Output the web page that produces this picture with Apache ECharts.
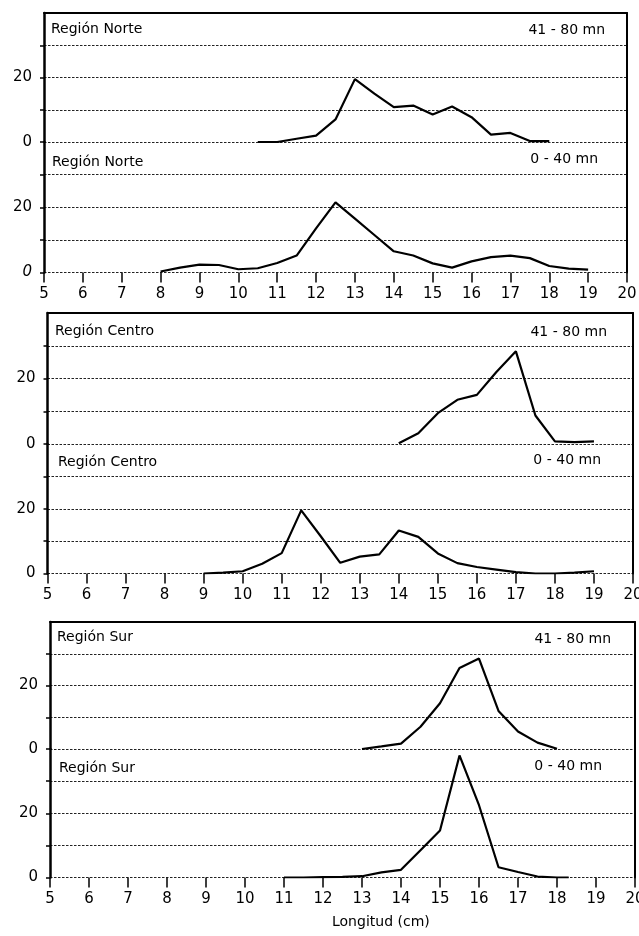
<!DOCTYPE html>
<html>
<head>
<meta charset="utf-8">
<script src="https://cdn.jsdelivr.net/npm/echarts@6/dist/echarts.min.js"></script>
<style>
  html, body { margin: 0; padding: 0; background: #fff; }
  #chart { width: 639px; height: 936px; }
</style>
</head>
<body>
<div id="chart"></div>
<script>
// ---------- DATA (longitud en cm, % frecuencia) ----------
const norte_41_80_x = [10.5, 11, 11.5, 12, 12.5, 13, 13.5, 14, 14.5, 15, 15.5, 16, 16.5, 17, 17.5, 18];
const norte_41_80_y = [0, 0, 1, 2, 7, 19.5, 15, 10.8, 11.3, 8.5, 11, 7.7, 2.3, 2.8, 0.3, 0.3];

const norte_0_40_x = [8, 8.5, 9, 9.5, 10, 10.5, 11, 11.5, 12, 12.5, 13, 13.5, 14, 14.5, 15, 15.5, 16, 16.5, 17, 17.5, 18, 18.5, 19];
const norte_0_40_y = [0.3, 1.5, 2.4, 2.3, 1.0, 1.3, 2.9, 5.2, 13.5, 21.5, 16.5, 11.5, 6.5, 5.2, 2.8, 1.5, 3.4, 4.7, 5.2, 4.4, 2.0, 1.2, 0.9];

const centro_41_80_x = [14, 14.5, 15, 15.5, 16, 16.5, 17, 17.5, 18, 18.5, 19];
const centro_41_80_y = [0.2, 3.3, 9.4, 13.5, 15, 22, 28.3, 8.7, 0.8, 0.6, 0.8];

const centro_0_40_x = [9, 9.5, 10, 10.5, 11, 11.5, 12, 12.5, 13, 13.5, 14, 14.5, 15, 15.5, 16, 16.5, 17, 17.5, 18, 18.5, 19];
const centro_0_40_y = [0, 0.3, 0.7, 3, 6.3, 19.5, 11.5, 3.3, 5.2, 5.9, 13.3, 11.3, 6.2, 3.2, 2, 1.2, 0.4, 0, 0, 0.3, 0.7];

const sur_41_80_x = [13, 13.5, 14, 14.5, 15, 15.5, 16, 16.5, 17, 17.5, 18];
const sur_41_80_y = [0, 0.8, 1.7, 7, 14.4, 25.5, 28.5, 12, 5.5, 2, 0.1];

const sur_0_40_x = [11, 11.5, 12, 12.5, 13, 13.5, 14, 14.5, 15, 15.5, 16, 16.5, 17, 17.5, 18, 18.3];
const sur_0_40_y = [0, 0, 0.1, 0.2, 0.4, 1.6, 2.4, 8.5, 14.6, 38, 22.5, 3.2, 1.7, 0.3, 0, 0];

const regionNames = ['Región Norte', 'Región Centro', 'Región Sur'];
const depthLabels = ['41 - 80 mn', '0 - 40 mn'];
const xMin = 5, xMax = 20, xStep = 1;
const yMin = 0, yMax = 40, yStep = 10;
const yTickText = { 0: '0', 20: '20' };
const xAxisTitle = 'Longitud (cm)';

const seriesData = [
  [[norte_41_80_x, norte_41_80_y], [norte_0_40_x, norte_0_40_y]],
  [[centro_41_80_x, centro_41_80_y], [centro_0_40_x, centro_0_40_y]],
  [[sur_41_80_x, sur_41_80_y], [sur_0_40_x, sur_0_40_y]]
];

// ---------- LAYOUT ----------
const panels = [
  { left: 44,   right: 627, top: 13,  mid: 142, bottom: 272.5 },
  { left: 47.5, right: 633, top: 313, mid: 444, bottom: 573.5 },
  { left: 50,   right: 635, top: 622, mid: 749, bottom: 877.5 }
];
const textPos = [
  { reg: [[51, 22], [52, 155]], dep: [[34, 23], [41, 152]] },
  { reg: [[55, 324], [58, 455]], dep: [[32, 325], [38, 453]] },
  { reg: [[57, 630], [59, 761]], dep: [[28, 632], [37, 759]] }
];

const FONT = 'DejaVu Sans';
const INK = '#000';
const dotted = [2.5, 1.5];

const grid = [], xAxis = [], yAxis = [], series = [], title = [];

panels.forEach((p, pi) => {
  const w = p.right - p.left;
  [0, 1].forEach(sub => {
    const gi = grid.length;
    const top = sub === 0 ? p.top : p.mid;
    const h = sub === 0 ? (p.mid - p.top) : (p.bottom - p.mid);
    grid.push({ left: p.left, top: top, width: w, height: h, containLabel: false, outerBoundsMode: 'none' });

    const isUpper = sub === 0;
    xAxis.push({
      type: 'value', gridIndex: gi, min: xMin, max: xMax, interval: xStep,
      position: isUpper ? 'top' : 'bottom',
      axisLine: { show: isUpper, onZero: false, lineStyle: { color: INK, width: 2 } },
      axisTick: { show: !isUpper, inside: false, length: 10, lineStyle: { color: INK, width: 1.5 } },
      axisLabel: { show: !isUpper, margin: 14, fontSize: 15, fontFamily: FONT, color: INK },
      splitLine: { show: false }
    });

    const italicZero = (pi === 0 && !isUpper);
    yAxis.push({
      type: 'value', gridIndex: gi, min: yMin, max: yMax, interval: yStep, position: 'left',
      axisLine: { show: true, onZero: false, lineStyle: { color: INK, width: 2.5 } },
      axisTick: { show: true, inside: false, length: 4, lineStyle: { color: INK, width: 1.5 } },
      axisLabel: {
        margin: 12, fontSize: 15, fontFamily: FONT, color: INK,
        showMinLabel: true, showMaxLabel: false,
        formatter: v => {
          const t = yTickText[v] || '';
          if (italicZero && v === 0) return '{it|' + t + '}';
          return t;
        },
        rich: { it: { fontStyle: 'italic', fontSize: 15, fontFamily: FONT, color: INK } }
      },
      splitLine: {
        show: true, showMinLine: true, showMaxLine: isUpper,
        lineStyle: { color: '#222', width: 1.1, type: dotted }
      }
    });
    yAxis.push({
      type: 'value', gridIndex: gi, min: yMin, max: yMax, interval: yStep, position: 'right',
      axisLine: { show: true, onZero: false, lineStyle: { color: INK, width: 2 } },
      axisTick: { show: false }, axisLabel: { show: false }, splitLine: { show: false }
    });

    const [xs, ys] = seriesData[pi][sub];
    series.push({
      type: 'line', xAxisIndex: gi, yAxisIndex: yAxis.length - 2,
      data: xs.map((x, i) => [x, ys[i]]),
      symbol: 'none', smooth: false, silent: true, animation: false,
      lineStyle: { color: INK, width: 2.2 }, z: 5
    });

    const tp = textPos[pi];
    title.push({
      text: regionNames[pi], left: tp.reg[sub][0], top: tp.reg[sub][1], padding: 0,
      textStyle: { fontSize: 14, fontWeight: 'normal', fontFamily: FONT, color: INK }
    });
    title.push({
      text: depthLabels[sub], right: tp.dep[sub][0], top: tp.dep[sub][1], padding: 0,
      textStyle: { fontSize: 14, fontWeight: 'normal', fontFamily: FONT, color: INK }
    });
  });
});

title.push({
  text: xAxisTitle, left: 332, top: 915, padding: 0,
  textStyle: { fontSize: 14, fontWeight: 'normal', fontFamily: FONT, color: INK }
});

const chart = echarts.init(document.getElementById('chart'), null, { renderer: 'canvas' });
chart.setOption({
  animation: false,
  backgroundColor: '#fff',
  title, grid, xAxis, yAxis, series
});
</script>
</body>
</html>
